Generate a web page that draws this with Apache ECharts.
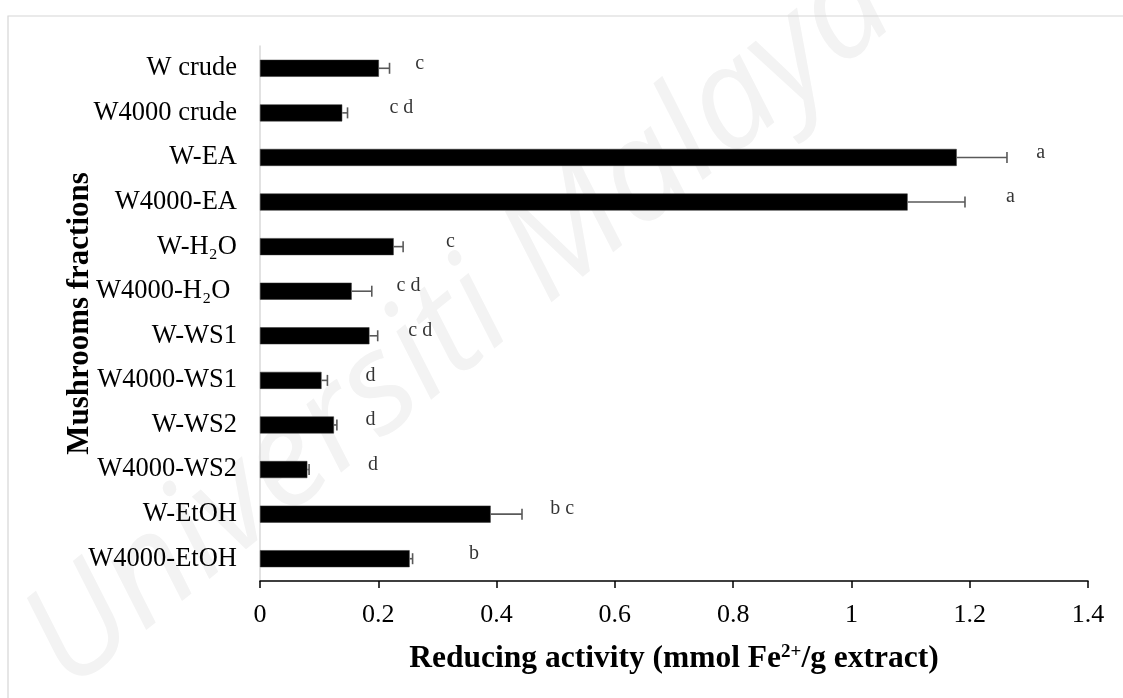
<!DOCTYPE html>
<html>
<head>
<meta charset="utf-8">
<script src="https://cdn.jsdelivr.net/npm/echarts@6/dist/echarts.min.js"></script>
<style>
html,body{margin:0;padding:0;background:#fff;}
#chart{width:1123px;height:698px;}
</style>
</head>
<body>
<div id="chart"></div>
<script>
const categories = ['W crude','W4000 crude','W-EA','W4000-EA','W-H\u2082O','W4000-H\u2082O ','W-WS1','W4000-WS1','W-WS2','W4000-WS2','W-EtOH','W4000-EtOH'];
const values = [0.201,0.139,1.178,1.095,0.226,0.155,0.185,0.104,0.125,0.080,0.390,0.253];
const errors = [0.018,0.009,0.085,0.097,0.016,0.034,0.014,0.010,0.005,0.003,0.053,0.005];
const letters = ['c','c d','a','a','c','c d','c d','d','d','d','b c','b'];
const letterX = [0.270,0.239,1.320,1.269,0.322,0.251,0.271,0.187,0.187,0.191,0.511,0.362];
const xMin = 0, xMax = 1.4, xStep = 0.2;

const serif = "'Liberation Serif', 'Times New Roman', serif";
const chart = echarts.init(document.getElementById('chart'));

const errData = values.map((v, i) => [v, v + errors[i], i]);
const letterData = letterX.map((x, i) => ({ value: [x, i], label: { formatter: letters[i] } }));

chart.setOption({
  backgroundColor: '#ffffff',
  animation: false,
  graphic: [
    {
      type: 'text', silent: true, z: -10,
      x: 460, y: 325, rotation: 0.68,
      style: { text: 'Universiti Malaya', font: 'italic 140px "Open Sans", sans-serif', fill: '#f3f3f3', align: 'center', verticalAlign: 'middle' }
    },
    {
      type: 'rect', silent: true, z: -5,
      shape: { x: 8, y: 16, width: 1300, height: 900 },
      style: { fill: 'none', stroke: '#d6d6d6', lineWidth: 1.2 }
    }
  ],
  grid: { left: 260, right: 35, top: 46, bottom: 117, containLabel: false },
  xAxis: {
    type: 'value', min: xMin, max: xMax, interval: xStep,
    name: '{b|Reducing activity (mmol Fe}{sup|2+}{b|/g extract)}',
    nameLocation: 'middle', nameGap: 62,
    nameTextStyle: {
      fontSize: 31.5, fontWeight: 'bold', fontFamily: serif, color: '#000',
      rich: {
        b: { fontSize: 31.5, fontWeight: 'bold', fontFamily: serif, color: '#000' },
        sup: { fontSize: 19, fontWeight: 'bold', fontFamily: serif, color: '#000', verticalAlign: 'top' }
      }
    },
    axisLine: { show: true, lineStyle: { color: '#000', width: 1.5 } },
    axisTick: { show: true, length: 7, lineStyle: { color: '#000', width: 1.5 } },
    axisLabel: { fontSize: 26, fontFamily: serif, color: '#000', margin: 21, showMinLabel: true, showMaxLabel: true },
    splitLine: { show: false }
  },
  yAxis: {
    type: 'category', data: categories, inverse: true,
    name: 'Mushrooms fractions', nameLocation: 'middle', nameGap: 165, nameRotate: 90,
    nameMoveOverlap: false,
    nameTextStyle: { fontSize: 31, fontWeight: 'bold', fontFamily: serif, color: '#000' },
    axisLine: { show: true, lineStyle: { color: '#d9d9d9', width: 1.5 } },
    axisTick: { show: false },
    axisLabel: { fontSize: 26.5, fontFamily: serif, color: '#000', margin: 23 },
    splitLine: { show: false }
  },
  series: [
    {
      type: 'bar', data: values, barWidth: 17,
      itemStyle: { color: '#000', borderColor: '#333', borderWidth: 0.5 },
      z: 2
    },
    {
      type: 'custom', data: errData, z: 3,
      encode: { x: [0, 1], y: 2 },
      renderItem: function (params, api) {
        const p0 = api.coord([api.value(0), api.value(2)]);
        const p1 = api.coord([api.value(1), api.value(2)]);
        const h = 5.5;
        const st = { stroke: '#595959', lineWidth: 1.6 };
        return {
          type: 'group',
          children: [
            { type: 'line', shape: { x1: p0[0], y1: p0[1], x2: p1[0], y2: p1[1] }, style: st },
            { type: 'line', shape: { x1: p1[0], y1: p1[1] - h, x2: p1[0], y2: p1[1] + h }, style: st }
          ]
        };
      }
    },
    {
      type: 'scatter', data: letterData, symbolSize: 0, z: 4, silent: true,
      label: { show: true, position: 'inside', fontSize: 20, fontFamily: serif, color: '#000', offset: [0, -5] }
    }
  ]
});
</script>
</body>
</html>
